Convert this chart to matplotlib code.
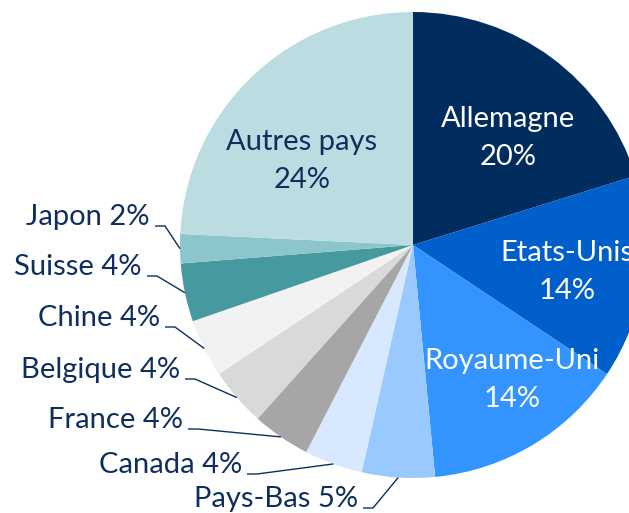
import numpy as np
import matplotlib
matplotlib.use("Agg")
import matplotlib.pyplot as plt

# ---- data ----
countries = ["Allemagne", "Etats-Unis", "Royaume-Uni", "Pays-Bas", "Canada", "France",
             "Belgique", "Chine", "Suisse", "Japon", "Autres pays"]
shares = [20, 14, 14, 5, 4, 4, 4, 4, 4, 2, 24]
colors = ["#012D5E", "#005FCA", "#3393FF", "#99C9FF", "#D7E8FF", "#A6A6A6",
          "#D9D9D9", "#F2F2F2", "#469A9F", "#8CC5CB", "#BBDDE1"]
inside = {"Allemagne", "Etats-Unis", "Royaume-Uni", "Autres pays"}

W, H = 629, 513
TEXT = "#0E2F5E"

plt.rcParams['font.family'] = ['Lato', 'DejaVu Sans']

fig = plt.figure(figsize=(W / 100, H / 100), dpi=100)
ax = fig.add_axes([0, 0, 1, 1])

def Y(y):
    return H - y

cx, cy, R = 413, 245, 233
wedges, _ = ax.pie(shares, colors=colors, startangle=90, counterclock=False,
                   center=(cx, Y(cy)), radius=R, frame=True,
                   wedgeprops=dict(linewidth=0))
ax.set_xlim(0, W)
ax.set_ylim(0, H)
ax.set_aspect("equal")
ax.axis("off")

fs = 21

# inside label centres (image px)
inside_pos = {"Allemagne": (508, 138), "Etats-Unis": (567, 272),
              "Royaume-Uni": (512, 380), "Autres pays": (302, 161)}
inside_col = {"Allemagne": "white", "Etats-Unis": "white", "Royaume-Uni": "white",
              "Autres pays": TEXT}
# outside label anchor (right edge x, centre y), image px
outside_pos = {"Japon": (150, 217), "Suisse": (142, 267), "Chine": (160, 318),
               "Belgique": (180, 370), "France": (183, 420), "Canada": (242, 465),
               "Pays-Bas": (358, 499)}

for w, name, val in zip(wedges, countries, shares):
    if name in inside:
        x, y = inside_pos[name]
        ax.text(x, Y(y), f"{name}\n{val}%", ha="center", va="center", fontsize=fs,
                color=inside_col[name], linespacing=1.55)
    else:
        x, y = outside_pos[name]
        ax.text(x, Y(y), f"{name} {val}%", ha="right", va="center", fontsize=fs,
                color=TEXT)
        mid = np.deg2rad((w.theta1 + w.theta2) / 2)
        ex = cx + R * np.cos(mid)
        ey = Y(cy) + R * np.sin(mid)
        ly = Y(y + 9)
        ax.plot([x + 5, x + 15, ex], [ly, ly, ey], color=TEXT, lw=1.0,
                solid_capstyle="butt")

fig.savefig("out.png", dpi=100)
